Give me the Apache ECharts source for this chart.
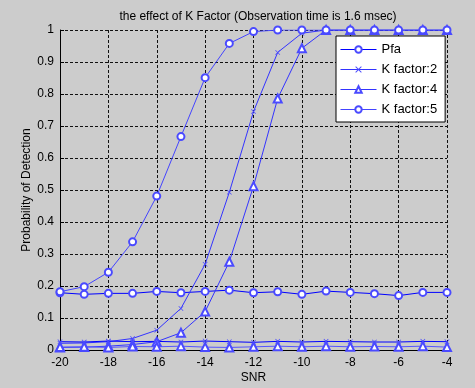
<!DOCTYPE html>
<html>
<head>
<meta charset="utf-8">
<script src="https://cdn.jsdelivr.net/npm/echarts@6/dist/echarts.min.js"></script>
<style>
  html, body { margin: 0; padding: 0; background: #cccccc; }
  #main { width: 475px; height: 388px; }
</style>
</head>
<body>
<div id="main"></div>
<script>
var snr = [-20, -19, -18, -17, -16, -15, -14, -13, -12, -11, -10, -9, -8, -7, -6, -5, -4];
// detection probability for each K factor
var pdK5 = [0.182, 0.198, 0.243, 0.338, 0.481, 0.667, 0.851, 0.958, 0.995, 1, 1, 1, 1, 1, 1, 1, 1];
var pdK2 = [0.021, 0.022, 0.026, 0.036, 0.062, 0.13, 0.268, 0.493, 0.745, 0.93, 0.99, 1, 1, 1, 1, 1, 1];
var pdK4 = [0.008, 0.009, 0.012, 0.017, 0.026, 0.054, 0.12, 0.276, 0.512, 0.786, 0.943, 1, 1, 1, 1, 1, 1];
// false alarm probability
var pfaK5 = [0.179, 0.174, 0.177, 0.177, 0.183, 0.179, 0.183, 0.187, 0.179, 0.182, 0.174, 0.184, 0.18, 0.176, 0.17, 0.18, 0.18];
var pfaK2 = [0.026, 0.025, 0.028, 0.026, 0.027, 0.025, 0.028, 0.026, 0.024, 0.027, 0.025, 0.027, 0.026, 0.025, 0.025, 0.027, 0.026];
var pfaK4 = [0.009, 0.01, 0.008, 0.011, 0.01, 0.012, 0.009, 0.008, 0.01, 0.012, 0.01, 0.012, 0.01, 0.011, 0.01, 0.012, 0.009];
var legendNames = ['Pfa', 'K factor:2', 'K factor:4', 'K factor:5'];

var xMark = 'path://M0,1L1,0L5,4L9,0L10,1L6,5L10,9L9,10L5,6L1,10L0,9L4,5Z';

function pairs(vals) {
  return snr.map(function (s, i) { return [s, vals[i]]; });
}
function line(name, vals, symbol, size, color) {
  return {
    name: name,
    type: 'line',
    data: pairs(vals),
    symbol: symbol,
    symbolSize: size,
    showAllSymbol: true,
    animation: false,
    lineStyle: { color: color, width: 1 },
    itemStyle: { color: '#4a4aff', borderWidth: 1 }
  };
}

var dom = document.getElementById('main');
var myChart = echarts.init(dom);
var option = {
  backgroundColor: '#cccccc',
  textStyle: { fontFamily: 'Liberation Sans', color: '#000' },
  title: {
    text: 'the effect of K Factor (Observation time is 1.6 msec)',
    left: 253,
    textAlign: 'center',
    top: 6,
    textStyle: { fontSize: 12, fontWeight: 'normal', color: '#000', fontFamily: 'Liberation Sans' }
  },
  legend: {
    data: legendNames,
    orient: 'vertical',
    left: 336,
    top: 36,
    itemWidth: 36,
    itemHeight: 8,
    itemGap: 7,
    padding: [7, 8, 6, 4],
    backgroundColor: '#fff',
    borderColor: '#000',
    borderWidth: 1,
    borderRadius: 0,
    lineStyle: { width: 1 },
    itemStyle: { borderWidth: 1 },
    textStyle: { fontSize: 13, color: '#000', fontFamily: 'Liberation Sans' }
  },
  grid: { left: 60, right: 28, top: 30, bottom: 38, containLabel: false, outerBoundsMode: 'none' },
  xAxis: {
    type: 'value',
    min: -20,
    max: -4,
    interval: 2,
    name: 'SNR',
    nameLocation: 'middle',
    nameGap: 22,
    nameMoveOverlap: false,
    nameTextStyle: { fontSize: 12, color: '#000' },
    axisLine: { onZero: false, lineStyle: { color: '#000', width: 1 } },
    axisTick: { inside: true, length: 4, lineStyle: { color: '#000' } },
    axisLabel: { fontSize: 12, color: '#000', margin: 7 },
    splitLine: { show: true, lineStyle: { color: '#111', type: [3, 2], width: 1 } }
  },
  yAxis: {
    type: 'value',
    min: 0,
    max: 1,
    interval: 0.1,
    name: 'Probability of Detection',
    nameLocation: 'middle',
    nameGap: 27,
    nameMoveOverlap: false,
    nameTextStyle: { fontSize: 12, color: '#000' },
    axisLine: { show: true, lineStyle: { color: '#000', width: 1 } },
    axisTick: { show: true, inside: true, length: 4, lineStyle: { color: '#000' } },
    axisLabel: {
      fontSize: 12, color: '#000', margin: 6,
      formatter: function (v) { return String(Math.round(v * 10) / 10); }
    },
    splitLine: { show: true, lineStyle: { color: '#111', type: [3, 2], width: 1 } }
  },
  series: [
    line('Pfa', pfaK5, 'emptyCircle', 7, '#0000ff'),
    line('K factor:2', pdK2, xMark, 5, '#3333ff'),
    line('K factor:4', pdK4, 'emptyTriangle', 8, '#3333ff'),
    line('K factor:5', pdK5, 'emptyCircle', 7, '#4444ff'),
    line('Pfa K2', pfaK2, xMark, 5, '#0000ff'),
    line('Pfa K4', pfaK4, 'emptyTriangle', 8, '#5555ff')
  ]
};
if (option && typeof option === 'object') {
  myChart.setOption(option, true);
}
</script>
</body>
</html>
